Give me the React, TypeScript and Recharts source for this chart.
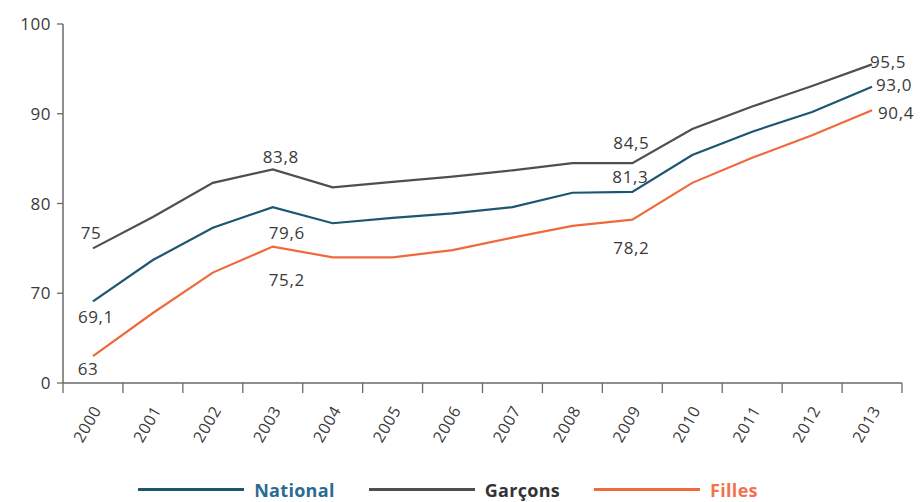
import React from 'react';
import { LineChart, Line, XAxis, YAxis, Legend } from 'recharts';

// ── data ────────────────────────────────────────────────────
const YEARS = ['2000', '2001', '2002', '2003', '2004', '2005', '2006', '2007', '2008', '2009', '2010', '2011', '2012', '2013'];
const NATIONAL = [69.1, 73.7, 77.3, 79.6, 77.8, 78.4, 78.9, 79.6, 81.2, 81.3, 85.4, 88.0, 90.2, 93.0];
const GARCONS = [75, 78.5, 82.3, 83.8, 81.8, 82.4, 83.0, 83.7, 84.5, 84.5, 88.3, 90.8, 93.1, 95.5];
const FILLES = [63, 67.8, 72.3, 75.2, 74.0, 74.0, 74.8, 76.2, 77.5, 78.2, 82.3, 85.1, 87.6, 90.4];

// broken axis: bottom tick is printed as "0"
const Y_TICKS = [60, 70, 80, 90, 100];
const Y_TICK_LABELS = ['0', '70', '80', '90', '100'];

// value annotations (index in YEARS, printed text, where)
const NATIONAL_NOTES = [
  { i: 0, text: '69,1', at: 'below' },
  { i: 3, text: '79,6', at: 'below' },
  { i: 9, text: '81,3', at: 'above' },
  { i: 13, text: '93,0', at: 'right' },
];
const GARCONS_NOTES = [
  { i: 0, text: '75', at: 'above' },
  { i: 3, text: '83,8', at: 'above' },
  { i: 9, text: '84,5', at: 'above' },
  { i: 13, text: '95,5', at: 'right' },
];
const FILLES_NOTES = [
  { i: 0, text: '63', at: 'below' },
  { i: 3, text: '75,2', at: 'below' },
  { i: 9, text: '78,2', at: 'below' },
  { i: 13, text: '90,4', at: 'right' },
];

const W = 923;
const H = 502;
const MARGIN = { top: 24, right: 21, left: 8, bottom: 0 };
const Y_AXIS_W = 55;
const HALF_BAND = (W - MARGIN.right - MARGIN.left - Y_AXIS_W) / YEARS.length / 2;

const C_NATIONAL = '#1d5673';
const C_GARCONS = '#4f4f4f';
const C_FILLES = '#ee6a3a';
const TEXT = '#3a3a3a';
const AXIS = '#6a6a6a';
const FONT = '"Open Sans", "Noto Sans", sans-serif';

const chartData = YEARS.map((year, i) => ({
  idx: i,
  year,
  National: NATIONAL[i],
  Garcons: GARCONS[i],
  Filles: FILLES[i],
}));

const xTicks = YEARS.map((_, i) => i);

// label on the category, tick marks on the band edges
const XTick = ({ x, y, payload }: any) => {
  const v = payload.value;
  const axisY = y - 2;
  const lx = x + 9;
  const ly = axisY + 27;
  return (
    <g>
      <line x1={x - HALF_BAND} x2={x - HALF_BAND} y1={axisY} y2={axisY + 10} stroke={AXIS} strokeWidth={1.3} />
      {v === YEARS.length - 1 && (
        <line x1={x + HALF_BAND} x2={x + HALF_BAND} y1={axisY} y2={axisY + 10} stroke={AXIS} strokeWidth={1.3} />
      )}
      <text
        x={lx}
        y={ly}
        textAnchor="end"
        fill={TEXT}
        fontSize={16}
        letterSpacing={0.6}
        fontFamily={FONT}
        transform={`rotate(-60 ${lx} ${ly})`}
      >
        {YEARS[v]}
      </text>
    </g>
  );
};

const makeNote = (notes: any[], right: { dx: number; dy: number }, offs: Record<number, { dx: number; dy: number }>) =>
  (props: any) => {
    const { x, y, index } = props;
    const note = notes.find(n => n.i === index);
    if (!note) return null;
    const common = { fill: TEXT, fontSize: 17, letterSpacing: 0.6, fontFamily: FONT, dominantBaseline: 'central' as const };
    if (note.at === 'right') {
      return <text key={index} x={x + right.dx} y={y + right.dy} textAnchor="start" {...common}>{note.text}</text>;
    }
    const o = offs[index] || { dx: 0, dy: note.at === 'above' ? -16 : 16 };
    return <text key={index} x={x + o.dx} y={y + o.dy} textAnchor="middle" {...common}>{note.text}</text>;
  };

const nationalLabel = makeNote(NATIONAL_NOTES, { dx: 4, dy: -2 }, { 0: { dx: 3, dy: 15 }, 3: { dx: 14, dy: 25 }, 9: { dx: -2, dy: -15 } });
const garconsLabel = makeNote(GARCONS_NOTES, { dx: -2, dy: -3 }, { 0: { dx: -2, dy: -16 }, 3: { dx: 8, dy: -13 }, 9: { dx: -1, dy: -21 } });
const fillesLabel = makeNote(FILLES_NOTES, { dx: 6, dy: 2 }, { 0: { dx: -5, dy: 12 }, 3: { dx: 14, dy: 33 }, 9: { dx: -1, dy: 28 } });

const LEGEND_ITEMS = [
  { name: 'National', color: C_NATIONAL, text: '#2d6a93' },
  { name: 'Garçons', color: C_GARCONS, text: '#333333' },
  { name: 'Filles', color: C_FILLES, text: '#f2714e' },
];

const ChartLegend = () => (
  <div style={{ display: 'flex', justifyContent: 'center', alignItems: 'center', height: 39, paddingTop: 14, boxSizing: 'border-box', gap: 34, marginLeft: -14 }}>
    {LEGEND_ITEMS.map(it => (
      <div key={it.name} style={{ display: 'flex', alignItems: 'center', gap: 10 }}>
        <span style={{ display: 'inline-block', width: 106, height: 3, background: it.color }} />
        <span style={{ color: it.text, fontWeight: 700, fontSize: 18, letterSpacing: 0.3, fontFamily: FONT }}>{it.name}</span>
      </div>
    ))}
  </div>
);

export default function App() {
  return (
    <div style={{ position: 'absolute', left: 0, top: 0, width: W, height: H, background: '#fff' }}>
      <LineChart width={W} height={H} data={chartData} margin={MARGIN}>
        <XAxis
          dataKey="idx"
          type="number"
          domain={[-0.5, YEARS.length - 0.5]}
          ticks={xTicks}
          interval={0}
          tickLine={false}
          tick={<XTick />}
          axisLine={{ stroke: AXIS, strokeWidth: 1.5 }}
          height={80}
          tickSize={0}
          tickMargin={2}
        />
        <YAxis
          domain={[60, 100]}
          ticks={Y_TICKS}
          tickFormatter={(v: number) => Y_TICK_LABELS[Y_TICKS.indexOf(v)]}
          width={Y_AXIS_W}
          tickSize={6}
          tickMargin={6}
          tick={{ fill: TEXT, fontSize: 17, letterSpacing: 0.5, fontFamily: FONT }}
          tickLine={{ stroke: AXIS, strokeWidth: 1.3 }}
          axisLine={{ stroke: AXIS, strokeWidth: 1.5 }}
        />
        <Legend verticalAlign="bottom" content={<ChartLegend />} />
        <Line dataKey="Garcons" name="Garçons" stroke={C_GARCONS} strokeWidth={2.2} dot={false} isAnimationActive={false} label={garconsLabel} />
        <Line dataKey="National" stroke={C_NATIONAL} strokeWidth={2.2} dot={false} isAnimationActive={false} label={nationalLabel} />
        <Line dataKey="Filles" stroke={C_FILLES} strokeWidth={2.2} dot={false} isAnimationActive={false} label={fillesLabel} />
      </LineChart>
    </div>
  );
}
